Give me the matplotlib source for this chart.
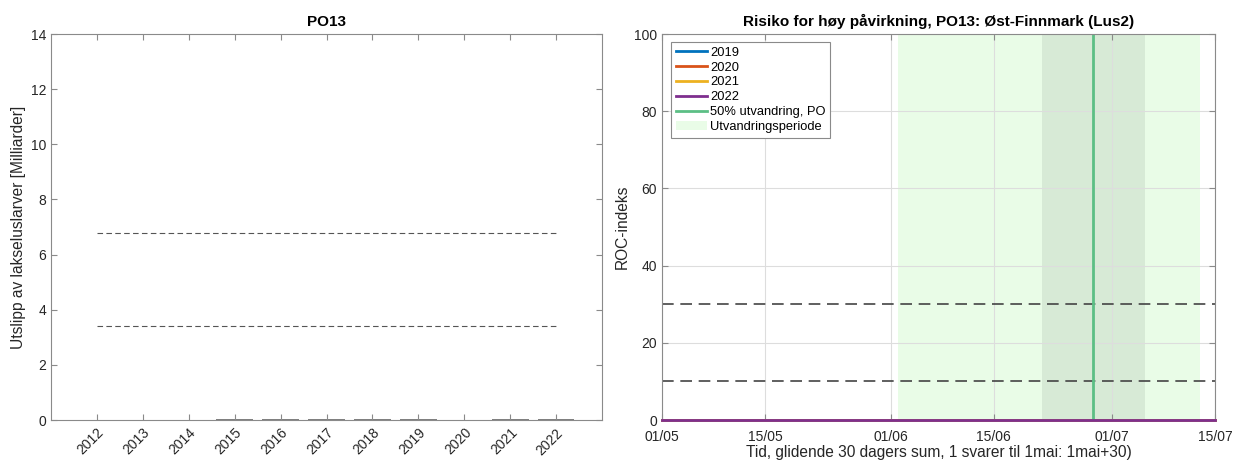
import numpy as np
import matplotlib.pyplot as plt

plt.rcParams['font.family'] = ['Liberation Sans', 'DejaVu Sans']

# left panel data
years = [2012, 2013, 2014, 2015, 2016, 2017, 2018, 2019, 2020, 2021, 2022]
emissions = [0.0, 0.0, 0.0, 0.03, 0.03, 0.03, 0.03, 0.03, 0.0, 0.03, 0.03]
limit_high = 6.8
limit_low = 3.4

# right panel data (day 1 = 1 May)
days = list(range(1, 77))
roc_2019 = [0.0] * len(days)
roc_2020 = [0.0] * len(days)
roc_2021 = [0.0] * len(days)
roc_2022 = [0.0] * len(days)
migration_50 = 59.5
migration_start = 33
migration_end = 74
peak_half_width = 7
roc_levels = [30, 10]
date_ticks = [1, 15, 32, 46, 62, 76]
date_labels = ['01/05', '15/05', '01/06', '15/06', '01/07', '15/07']

edge = '#8a8a8a'
txt = '#262626'

W, H = 1234, 461
fig = plt.figure(figsize=(W / 100, H / 100), dpi=100)
ax1 = fig.add_axes([51 / W, 1 - 420 / H, 551 / W, 386 / H])
ax2 = fig.add_axes([662 / W, 1 - 420 / H, 553 / W, 386 / H])

for ax in (ax1, ax2):
    for s in ax.spines.values():
        s.set_color(edge)
        s.set_linewidth(0.8)
    ax.tick_params(direction='in', top=True, right=True, colors=edge,
                   labelcolor=txt, labelsize=10, length=4, width=0.8)
    ax.tick_params(axis='x', pad=7)

# left: bars
ax1.bar(years, emissions, 0.8, color='#808080')
ax1.hlines([limit_high, limit_low], years[0], years[-1], colors='#555555',
           linestyles=(0, (5, 3)), linewidth=0.8)
ax1.set_xlim(2011, 2023)
ax1.set_ylim(0, 14)
ax1.set_xticks(years)
ax1.set_xticklabels([str(y) for y in years], rotation=45, ha='right',
                    rotation_mode='anchor')
ax1.tick_params(axis='x', pad=4)
ax1.set_yticks(range(0, 15, 2))
ax1.set_ylabel('Utslipp av lakseluslarver [Milliarder]', fontsize=11.2,
               color=txt, labelpad=3)
ax1.set_title('PO13', fontsize=11, fontweight='bold', pad=6)

# right: ROC index
ax2.axvspan(migration_start, migration_end, color='#e9fce7', lw=0,
            label='Utvandringsperiode', zorder=0)
ax2.axvspan(migration_50 - peak_half_width, migration_50 + peak_half_width,
            color='#d7ead6', lw=0, zorder=0.5)
ax2.grid(True, color='#dddddd', linewidth=0.8)
ax2.set_axisbelow(True)
for lev in roc_levels:
    ax2.axhline(lev, color='#444444', linestyle=(0, (7, 4)), linewidth=1.2)
ax2.plot(days, roc_2019, color='#0072BD', lw=2, label='2019', clip_on=False)
ax2.plot(days, roc_2020, color='#D95319', lw=2, label='2020', clip_on=False)
ax2.plot(days, roc_2021, color='#EDB120', lw=2, label='2021', clip_on=False)
ax2.plot(days, roc_2022, color='#7E2F8E', lw=2, label='2022', clip_on=False,
         zorder=5)
ax2.axvline(migration_50, color='#5cbf85', lw=2, label='50% utvandring, PO')
ax2.set_xlim(date_ticks[0], date_ticks[-1])
ax2.set_ylim(0, 100)
ax2.set_xticks(date_ticks)
ax2.set_xticklabels(date_labels)
ax2.set_yticks(range(0, 101, 20))
ax2.set_ylabel('ROC-indeks', fontsize=11.2, color=txt, labelpad=3)
ax2.set_xlabel('Tid, glidende 30 dagers sum, 1 svarer til 1mai: 1mai+30)',
               fontsize=11.2, color=txt, labelpad=1)
ax2.set_title('Risiko for høy påvirkning, PO13: Øst-Finnmark (Lus2)',
              fontsize=11, fontweight='bold', pad=6)
handles, labels = ax2.get_legend_handles_labels()
order = ['2019', '2020', '2021', '2022', '50% utvandring, PO',
         'Utvandringsperiode']
hl = dict(zip(labels, handles))
leg = ax2.legend([hl[k] for k in order], order, loc='upper left',
                 fontsize=9.3, handlelength=2.4, labelspacing=0.22,
                 handletextpad=0.3, borderpad=0.35, borderaxespad=0,
                 fancybox=False, framealpha=1,
                 bbox_to_anchor=(0.0163, 0.979))
leg.get_frame().set_edgecolor(edge)
leg.get_frame().set_linewidth(0.8)

fig.savefig('out.png', dpi=100)
